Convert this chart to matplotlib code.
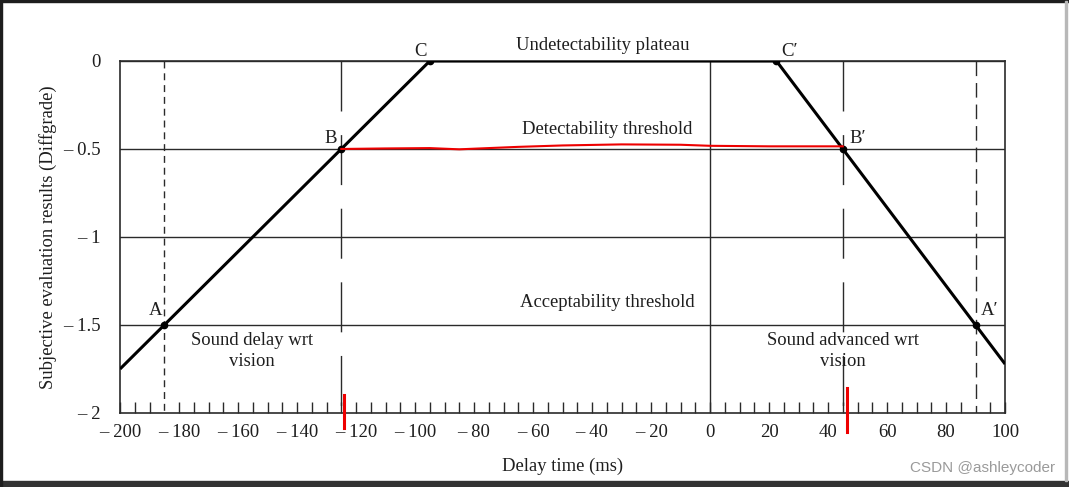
import numpy as np
import matplotlib
matplotlib.use('Agg')
import matplotlib.pyplot as plt
from matplotlib.patches import Rectangle
from matplotlib.ticker import FuncFormatter

plt.rcParams['font.family'] = ['Liberation Serif', 'DejaVu Serif']

# key points of the trapezoid (delay ms, diffgrade)
curve_x = [-200, -185, -125, -95, 22.5, 45, 90, 100]
curve_y = [-1.75, -1.5, -0.5, 0, 0, -0.5, -1.5, -1.722]
pt_x = [-185, -125, -95, 22.5, 45, 90]
pt_y = [-1.5, -0.5, 0, 0, -0.5, -1.5]
pt_names = ['A', 'B', 'C', 'C\u2032', 'B\u2032', 'A\u2032']
pt_lab_x = [-188, -128.5, -98, 27, 50, 94.7]
pt_lab_y = [-1.415, -0.44, 0.055, 0.055, -0.44, -1.415]

# hand drawn red threshold line
red_x = [-125, -110, -95, -85, -78, -65, -50, -30, -10, 0, 20, 45]
red_y = [-0.5, -0.497, -0.495, -0.502, -0.497, -0.488, -0.48, -0.474, -0.476, -0.482, -0.485, -0.485]
red_mark_x = [-124, 46.3]
red_mark_y0 = [-1.9, -1.86]
red_mark_y1 = [-2.085, -2.108]

grid_y = [0, -0.5, -1, -1.5]
ylabels = [0, -0.5, -1, -1.5, -2]

fig = plt.figure(figsize=(10.69, 4.87), dpi=100)
ax = fig.add_axes([0.1123, 0.1520, 0.8279, 0.7228])
ax.set_xlim(-200, 100)
ax.set_ylim(-2, 0)

gcol = '#2a2a2a'
tcol = '#1e1e1e'
for g in grid_y:
    ax.axhline(g, color=gcol, lw=1.0, zorder=1)
ax.axvline(0, color=gcol, lw=1.0, zorder=1)
# long dashed lines at B and B'
for xv in [-125, 45]:
    ax.plot([xv, xv], [0, -2], color=gcol, lw=1.0, dashes=(36, 17), zorder=1)
ax.plot([-185, -185], [0, -2], color=gcol, lw=1.0, dashes=(5, 3.5), zorder=1)
ax.plot([90, 90], [0, -2], color=gcol, lw=1.0, dashes=(10.5, 5), zorder=1)

ax.plot(curve_x, curve_y, color='black', lw=2.2, zorder=3, solid_capstyle='butt')
ax.plot(pt_x, pt_y, 'o', color='black', ms=4.5, zorder=4)
for n, lx, ly in zip(pt_names, pt_lab_x, pt_lab_y):
    ax.text(lx, ly, n, ha='center', va='center', fontsize=13.5, color=tcol)

ax.plot(red_x, red_y, color='#ee0000', lw=1.5, zorder=5)
for rx, r0, r1 in zip(red_mark_x, red_mark_y0, red_mark_y1):
    ax.plot([rx, rx], [r0, r1], color='#ee0000', lw=2.2, zorder=6, clip_on=False)

tsize = 13.4
ax.text(-36.4, 0.09, 'Undetectability plateau', ha='center', va='center', fontsize=tsize, color=tcol)
ax.text(-35, -0.39, 'Detectability threshold', ha='center', va='center', fontsize=tsize, color=tcol)
ax.text(-35, -1.375, 'Acceptability threshold', ha='center', va='center', fontsize=tsize, color=tcol)
ax.text(-155.3, -1.65, 'Sound delay wrt\nvision', ha='center', va='center', fontsize=tsize,
        color=tcol, linespacing=1.3)
ax.text(45, -1.65, 'Sound advanced wrt\nvision', ha='center', va='center', fontsize=tsize,
        color=tcol, linespacing=1.3)

def minus_fmt(v, pos):
    if v == 0:
        return '0'
    s = ('%g' % abs(v))
    return ('\u2013 ' + s) if v < 0 else s

ticks5 = [t for t in range(-200, 101, 5) if t not in (-185, 90)]
ax.set_xticks(ticks5)
ax.xaxis.set_major_formatter(FuncFormatter(lambda v, p: minus_fmt(v, p) if round(v) % 20 == 0 else ''))
ax.tick_params(axis='x', direction='in', length=8, width=1.0, color=gcol, labelsize=13.5,
               pad=8, labelcolor=tcol)
ax.set_yticks(ylabels)
ax.yaxis.set_major_formatter(FuncFormatter(minus_fmt))
ax.tick_params(axis='y', length=0, labelsize=13.5, pad=14, labelcolor=tcol)

for s in ax.spines.values():
    s.set_color(gcol)
    s.set_linewidth(1.2)

ax.set_xlabel('Delay time (ms)', fontsize=13.4, color=tcol, labelpad=12)
ax.set_ylabel('Subjective evaluation results (Diffgrade)', fontsize=13.4, color=tcol, labelpad=4.5)

fig.text(0.987, 0.039, 'CSDN @ashleycoder', ha='right', va='center', fontsize=11,
         color='#9a9a9a', family='Liberation Sans')

# screenshot frame
fig.patches.append(Rectangle((0, 0.9955), 1, 0.0045, transform=fig.transFigure, color='#1e1e1e'))
fig.patches.append(Rectangle((0, 0), 1, 0.0125, transform=fig.transFigure, color='#333333'))
fig.patches.append(Rectangle((0, 0), 0.0015, 1, transform=fig.transFigure, color='#1e1e1e'))
fig.patches.append(Rectangle((0.9965, 0.0125), 0.0012, 0.985, transform=fig.transFigure, color='#b8b8b8'))

fig.savefig('out.png', dpi=100)
